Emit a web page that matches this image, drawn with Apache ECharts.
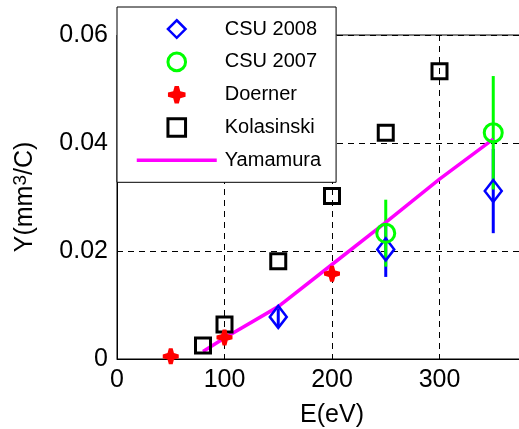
<!DOCTYPE html>
<html><head><meta charset="utf-8">
<script src="https://cdn.jsdelivr.net/npm/echarts@6/dist/echarts.min.js"></script>
<style>html,body{margin:0;padding:0;background:#fff}#c{width:519px;height:429px}</style>
</head><body><div id="c"></div>
<script>
// ---- data ----
const xTicks = [0, 100, 200, 300, 400];
const yTicks = [0, 0.02, 0.04, 0.06];
const seriesNames = ['CSU 2008', 'CSU 2007', 'Doerner', 'Kolasinski', 'Yamamura'];
const csu2008E = [150, 250, 350];
const csu2008Y = [0.0078, 0.0203, 0.0311];
const csu2008Err = [0.0018, 0.0051, 0.0078];
const csu2007E = [250, 350];
const csu2007Y = [0.0233, 0.0419];
const csu2007Err = [0.0062, 0.0105];
const doernerE = [50, 100, 200];
const doernerY = [0.0005, 0.0040, 0.0158];
const kolE = [80, 100, 150, 200, 250, 300];
const kolY = [0.0025, 0.0064, 0.0181, 0.0302, 0.0419, 0.0533];
const yamE = [80, 100, 150, 200, 250, 300, 350];
const yamY = [0.0014, 0.0039, 0.0097, 0.0175, 0.0253, 0.0333, 0.0407];

const FONT = 'Liberation Sans';
const pairs = (E, Y) => E.map((e, i) => [e, Y[i]]);
const STAR = 'path://M3.8,0 H6.2 L7,3 L10,3.8 V6.2 L7,7 L6.2,10 H3.8 L3,7 L0,6.2 V3.8 L3,3 Z';

function errSeries(name, E, Y, Err, color) {
  return {
    type: 'custom', name: name, silent: true,
    data: E.map((e, i) => [e, Y[i] - Err[i], Y[i] + Err[i]]),
    encode: { x: 0, y: [1, 2] },
    renderItem: function (params, api) {
      const p1 = api.coord([api.value(0), api.value(1)]);
      const p2 = api.coord([api.value(0), api.value(2)]);
      return { type: 'line', shape: { x1: p1[0], y1: p1[1], x2: p2[0], y2: p2[1] },
               style: { stroke: color, lineWidth: 3 } };
    }
  };
}
function markerSeries(name, E, Y, symbol, size, itemStyle) {
  return { type: 'line', name: name, data: pairs(E, Y), symbol: symbol, symbolSize: size,
           showSymbol: true, showAllSymbol: true, lineStyle: { width: 0, opacity: 0 },
           itemStyle: itemStyle, emphasis: { disabled: true } };
}

const chart = echarts.init(document.getElementById('c'), null, { renderer: 'canvas' });
chart.setOption({
  animation: false,
  backgroundColor: '#fff',
  grid: { left: 117, top: 35, bottom: 70, right: -28, outerBoundsMode: 'none', containLabel: false,
          show: true, borderColor: '#000', borderWidth: 1, backgroundColor: '#fff' },
  xAxis: {
    type: 'value', min: xTicks[0], max: xTicks[xTicks.length - 1], interval: 100,
    name: 'E(eV)', nameLocation: 'middle', nameGap: 44,
    nameTextStyle: { fontSize: 25, color: '#000', fontFamily: FONT },
    axisLine: { lineStyle: { color: '#000', width: 1 } },
    axisTick: { inside: true, length: 4, lineStyle: { color: '#000' } },
    axisLabel: { fontSize: 25, color: '#000', fontFamily: FONT, margin: 9 },
    splitLine: { show: true, lineStyle: { color: '#000', type: [6, 5], width: 1 } }
  },
  yAxis: {
    type: 'value', min: yTicks[0], max: yTicks[yTicks.length - 1], interval: 0.02,
    name: 'Y(mm{s|3}/C)', nameLocation: 'middle', nameGap: 78, nameRotate: 90,
    nameTextStyle: { fontSize: 25, color: '#000', fontFamily: FONT,
      rich: { s: { fontSize: 19, color: '#000', fontFamily: FONT, verticalAlign: 'top', padding: [0, 0, 9, 0] } } },
    axisLine: { lineStyle: { color: '#000', width: 1 } },
    axisTick: { inside: true, length: 4, lineStyle: { color: '#000' } },
    axisLabel: { fontSize: 25, color: '#000', fontFamily: FONT, margin: 9 },
    splitLine: { show: true, lineStyle: { color: '#000', type: [6, 5], width: 1 } }
  },
  legend: {
    data: [
      { name: seriesNames[0], itemStyle: { borderWidth: 2.5 } },
      { name: seriesNames[1], itemStyle: { borderWidth: 3 } },
      { name: seriesNames[2] },
      { name: seriesNames[3], itemStyle: { borderWidth: 3 } },
      { name: seriesNames[4], itemStyle: { opacity: 0 }, lineStyle: { width: 3.5, color: '#ff00ff', opacity: 1 } }
    ],
    orient: 'vertical', left: 117, top: 7,
    padding: [12, 15, 12, 18],
    itemWidth: 80, itemHeight: 22, itemGap: 12.5,
    backgroundColor: '#fff', borderColor: '#000', borderWidth: 1, borderRadius: 0,
    textStyle: { fontSize: 20, color: '#000', fontFamily: FONT, padding: [0, 0, 0, 3] },
    selectedMode: false, z: 20
  },
  series: [
    markerSeries('Kolasinski', kolE, kolY, 'rect', 15,
      { color: 'rgba(0,0,0,0)', borderColor: '#000', borderWidth: 3 }),
    errSeries('err2008', csu2008E, csu2008Y, csu2008Err, '#0000ff'),
    markerSeries('CSU 2008', csu2008E, csu2008Y, 'diamond', [17, 22],
      { color: 'rgba(0,0,0,0)', borderColor: '#0000ff', borderWidth: 2.5 }),
    errSeries('err2007', csu2007E, csu2007Y, csu2007Err, '#00ff00'),
    markerSeries('CSU 2007', csu2007E, csu2007Y, 'circle', 18,
      { color: 'rgba(0,0,0,0)', borderColor: '#00ff00', borderWidth: 3 }),
    markerSeries('Doerner', doernerE, doernerY, STAR, 16, { color: '#ff0000' }),
    { type: 'line', name: 'Yamamura', data: pairs(yamE, yamY), showSymbol: false, symbol: 'circle',
      lineStyle: { color: '#ff00ff', width: 3.5 }, itemStyle: { color: '#ff00ff' }, emphasis: { disabled: true } }
  ]
});
</script>
</body></html>
